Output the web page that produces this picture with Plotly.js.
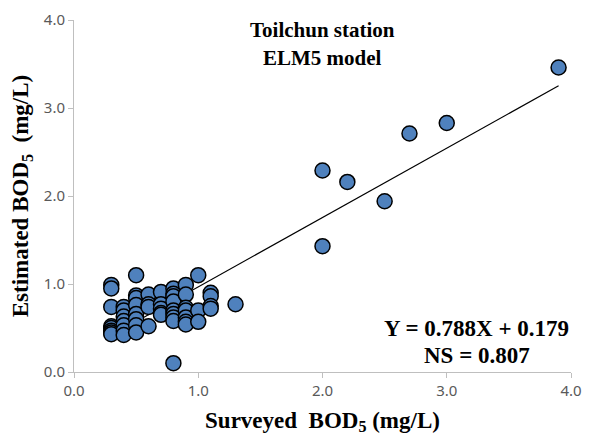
<!DOCTYPE html>
<html>
<head>
<meta charset="utf-8">
<script src="https://cdn.plot.ly/plotly-3.0.1.min.js"></script>
<style>html,body{margin:0;padding:0;background:#fff;}#chart{width:589px;height:441px;}</style>
</head>
<body>
<div id="chart"></div>
<script>
// Surveyed BOD5 (x) and estimated BOD5 (y), mg/L
const surveyed = [
  0.3,0.3,0.3,0.3,0.3,0.3,0.3,0.3,
  0.4,0.4,0.4,0.4,0.4,0.4,0.4,
  0.5,0.5,0.5,0.5,0.5,0.5,0.5,0.5,
  0.6,0.6,0.6,0.6,
  0.7,0.7,0.7,0.7,0.7,
  0.8,0.8,0.8,0.8,0.8,0.8,0.8,0.8,0.8,
  0.9,0.9,0.9,0.9,0.9,0.9,0.9,
  1.0,1.0,1.0,
  1.1,1.1,1.1,1.1,
  1.3,
  2.0,2.0,2.2,2.5,2.7,3.0,3.9
];
const estimated = [
  0.99,0.95,0.74,0.52,0.50,0.47,0.45,0.43,
  0.74,0.70,0.63,0.58,0.53,0.47,0.42,
  1.10,0.87,0.84,0.76,0.66,0.60,0.53,0.45,
  0.88,0.77,0.74,0.52,
  0.91,0.77,0.72,0.67,0.65,
  0.95,0.89,0.86,0.80,0.70,0.66,0.62,0.58,0.10,
  0.99,0.88,0.73,0.70,0.62,0.57,0.54,
  1.10,0.70,0.57,
  0.90,0.86,0.75,0.72,
  0.77,
  2.29,1.43,2.16,1.94,2.71,2.83,3.46
];
const slope = 0.788, intercept = 0.179, ns = 0.807;
const tickVals = [0,1,2,3,4];
const tickText = ['0.0','1.0','2.0','3.0','4.0'];

const xMin = Math.min(...surveyed), xMax = Math.max(...surveyed);
const fitX = [xMin, xMax];
const fitY = fitX.map(v => slope*v + intercept);

const serif = 'Liberation Serif, Times New Roman, serif';
const data = [
  {x: fitX, y: fitY, mode: 'lines', type: 'scatter',
   line: {color: '#000', width: 1.2}, hoverinfo: 'skip'},
  {x: surveyed, y: estimated, mode: 'markers', type: 'scatter',
   marker: {color: '#4f81bd', size: 15, line: {color: '#000', width: 1.5}}}
];
const axisCommon = {
  range: [0,4], tickvals: tickVals, ticktext: tickText,
  showgrid: false, zeroline: false, showline: true,
  linecolor: '#bfbfbf', linewidth: 1, ticks: 'outside', ticklen: 5,
  tickcolor: '#bfbfbf', tickfont: {family: 'Noto Sans, sans-serif', size: 15, color: '#595959'}
};
const layout = {
  width: 589, height: 441,
  margin: {l: 74, r: 18, t: 20, b: 69},
  showlegend: false,
  paper_bgcolor: '#fff', plot_bgcolor: '#fff',
  xaxis: Object.assign({}, axisCommon, {
    title: {text: 'Surveyed  BOD<sub>5</sub> (mg/L)', font: {family: serif, size: 23, color: '#000', weight: 'bold'}, standoff: 12}
  }),
  yaxis: Object.assign({}, axisCommon, {
    title: {text: 'Estimated BOD<sub>5</sub>  (mg/L)', font: {family: serif, size: 23, color: '#000', weight: 'bold'}, standoff: 8}
  }),
  annotations: [
    {x: 2.0, y: 3.89, xref: 'x', yref: 'y', text: '<b>Toilchun station</b>', showarrow: false,
     font: {family: serif, size: 21, color: '#000'}},
    {x: 2.0, y: 3.57, xref: 'x', yref: 'y', text: '<b>ELM5 model</b>', showarrow: false,
     font: {family: serif, size: 21, color: '#000'}},
    {x: 3.24, y: 0.50, xref: 'x', yref: 'y', text: '<b>Y = ' + slope.toFixed(3) + 'X + ' + intercept.toFixed(3) + '</b>', showarrow: false,
     font: {family: serif, size: 23, color: '#000'}},
    {x: 3.24, y: 0.19, xref: 'x', yref: 'y', text: '<b>NS = ' + ns.toFixed(3) + '</b>', showarrow: false,
     font: {family: serif, size: 23, color: '#000'}}
  ]
};
Plotly.newPlot('chart', data, layout, {displayModeBar: false, staticPlot: true});
</script>
</body>
</html>
